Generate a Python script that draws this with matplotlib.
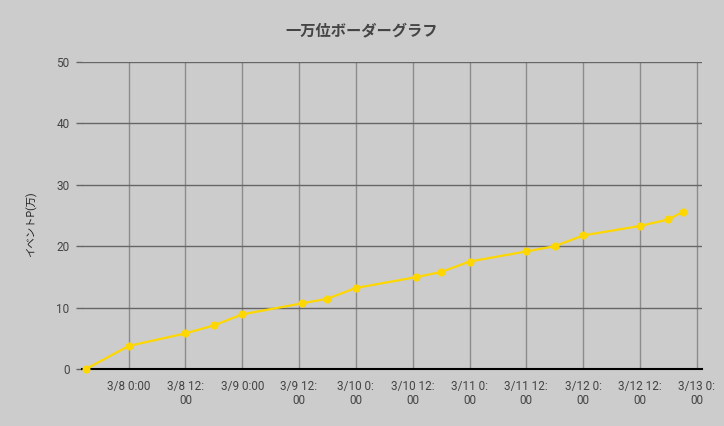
from datetime import datetime
import matplotlib
matplotlib.use('Agg')
import matplotlib.pyplot as plt

# データ (時刻とイベントP[万])
times = ['3/7 15:00', '3/8 0:00', '3/8 12:00', '3/8 18:00', '3/9 0:00',
         '3/9 12:40', '3/9 18:00', '3/10 0:00', '3/10 12:40', '3/10 18:00',
         '3/11 0:00', '3/11 12:00', '3/11 18:00', '3/12 0:00', '3/12 12:00',
         '3/12 18:00', '3/12 21:00']
points = [0, 3.75, 5.8, 7.1, 8.9, 10.7, 11.45, 13.2, 14.95, 15.8,
          17.5, 19.15, 20.0, 21.75, 23.3, 24.35, 25.6]

tick_times = ['3/8 0:00', '3/8 12:00', '3/9 0:00', '3/9 12:00', '3/10 0:00',
              '3/10 12:00', '3/11 0:00', '3/11 12:00', '3/12 0:00',
              '3/12 12:00', '3/13 0:00']
tick_labels = ['3/8 0:00', '3/8 12:\n00', '3/9 0:00', '3/9 12:\n00',
               '3/10 0:\n00', '3/10 12:\n00', '3/11 0:\n00', '3/11 12:\n00',
               '3/12 0:\n00', '3/12 12:\n00', '3/13 0:\n00']
x_range = ['3/7 14:10', '3/13 1:00']


def parse(t):
    return datetime.strptime('2000/' + t, '%Y/%m/%d %H:%M')


plt.rcParams['font.family'] = ['Roboto', 'Noto Sans CJK JP', 'DejaVu Sans']

bg = '#cccccc'
fig = plt.figure(figsize=(7.24, 4.26), dpi=100, facecolor=bg)
ax = fig.add_axes([0.1133, 0.1338, 0.8557, 0.7207], facecolor=bg)

x = [parse(t) for t in times]
ax.plot(x, points, color='#ffd700', linewidth=1.6, marker='o',
        markersize=4.8, zorder=3, clip_on=False)

ax.set_xlim(parse(x_range[0]), parse(x_range[1]))
ax.set_ylim(0, 50)
ax.set_yticks([0, 10, 20, 30, 40, 50])
ax.set_xticks([parse(t) for t in tick_times])
ax.set_xticklabels(tick_labels, linespacing=1.1)

ax.grid(axis='y', color='#666666', linewidth=1.0)
ax.grid(axis='x', color='#8c8c8c', linewidth=1.0)
ax.set_axisbelow(True)

for s in ['top', 'right', 'left']:
    ax.spines[s].set_visible(False)
ax.spines['bottom'].set_color('#000000')
ax.spines['bottom'].set_linewidth(1.5)
ax.spines['bottom'].set_zorder(2)

ax.tick_params(axis='x', length=0, pad=8, labelsize=8.5, labelcolor='#444444')
ax.tick_params(axis='y', length=4, width=1.0, color='#666666', pad=5,
               labelsize=8.5, labelcolor='#444444')

ax.set_ylabel('イベントP(万)', fontsize=7.5, color='#222222')
ax.yaxis.set_label_coords(-0.072, 0.472)
fig.text(0.5, 0.928, '一万位ボーダーグラフ', ha='center', va='center',
         fontsize=11, fontweight='bold', color='#444444')

fig.savefig('out.png', dpi=100, facecolor=bg)
